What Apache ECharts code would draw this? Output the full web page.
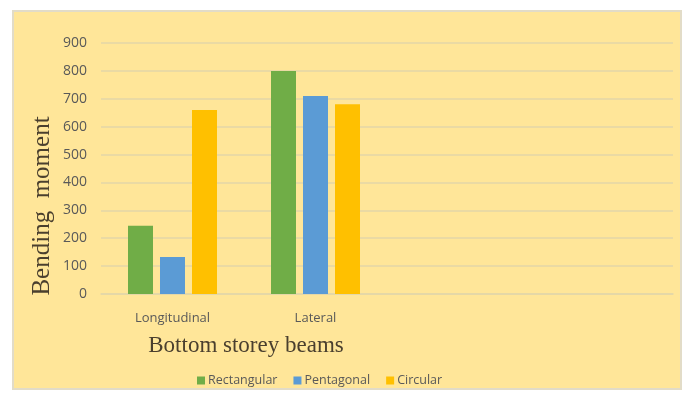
<!DOCTYPE html>
<html>
<head>
<meta charset="utf-8">
<script src="https://cdn.jsdelivr.net/npm/echarts@6/dist/echarts.min.js"></script>
<style>
  html, body { margin: 0; padding: 0; background: #ffffff; }
  #frame { position: absolute; left: 12px; top: 10px; width: 666px; height: 376px;
           background: #FFE699; border: 2px solid #E2DCC8; }
  #chart { position: absolute; left: 0; top: 0; width: 683px; height: 394px; }
</style>
</head>
<body>
<div id="frame"></div>
<div id="chart"></div>
<script>
// Bending moment in bottom storey beams, by section shape
const categories = ['Longitudinal', 'Lateral', '', ''];
const rectangular = [245, 800];
const pentagonal = [133, 710];
const circular = [660, 680];

const seriesNames = ['Rectangular', 'Pentagonal', 'Circular'];
const seriesColors = ['#70AD47', '#5B9BD5', '#FFC000'];
const seriesData = [rectangular, pentagonal, circular];

const titleStyle = { fontFamily: 'Liberation Serif', fontSize: 23, fill: '#4A3F2E' };

const chart = echarts.init(document.getElementById('chart'));
chart.setOption({
  animation: false,
  backgroundColor: 'transparent',
  graphic: [
    {
      type: 'text',
      x: 42,
      y: 206,
      rotation: Math.PI / 2,
      style: Object.assign({}, titleStyle, { text: 'Bending  moment', align: 'center', verticalAlign: 'middle', fontSize: 25 })
    },
    {
      type: 'text',
      x: 246,
      y: 346,
      style: Object.assign({}, titleStyle, { text: 'Bottom storey beams', align: 'center', verticalAlign: 'middle' })
    }
  ],
  legend: {
    data: seriesNames,
    left: 192,
    top: 369,
    icon: 'rect',
    itemWidth: 8,
    itemHeight: 8,
    itemGap: 16,
    textStyle: { fontFamily: 'Open Sans', fontSize: 12.5, color: '#595959', padding: [0, 0, 0, -2] }
  },
  grid: { left: 101, right: 10, top: 43, bottom: 100 },
  xAxis: {
    type: 'category',
    data: categories,
    axisLine: { lineStyle: { color: '#E3D6A8', width: 1.5 } },
    axisTick: { show: false },
    axisLabel: { fontFamily: 'Open Sans', fontSize: 13, color: '#595959', margin: 18 }
  },
  yAxis: {
    type: 'value',
    min: 0,
    max: 900,
    interval: 100,
    axisLine: { show: false },
    axisTick: { show: false },
    axisLabel: { fontFamily: 'Open Sans', fontSize: 14, color: '#595959', margin: 14 },
    splitLine: { lineStyle: { color: '#E3D6A8', width: 1.5 } }
  },
  series: seriesNames.map((name, i) => ({
    name: name,
    type: 'bar',
    data: seriesData[i],
    barWidth: 25,
    barGap: '28%',
    itemStyle: { color: seriesColors[i] }
  }))
});
</script>
</body>
</html>
